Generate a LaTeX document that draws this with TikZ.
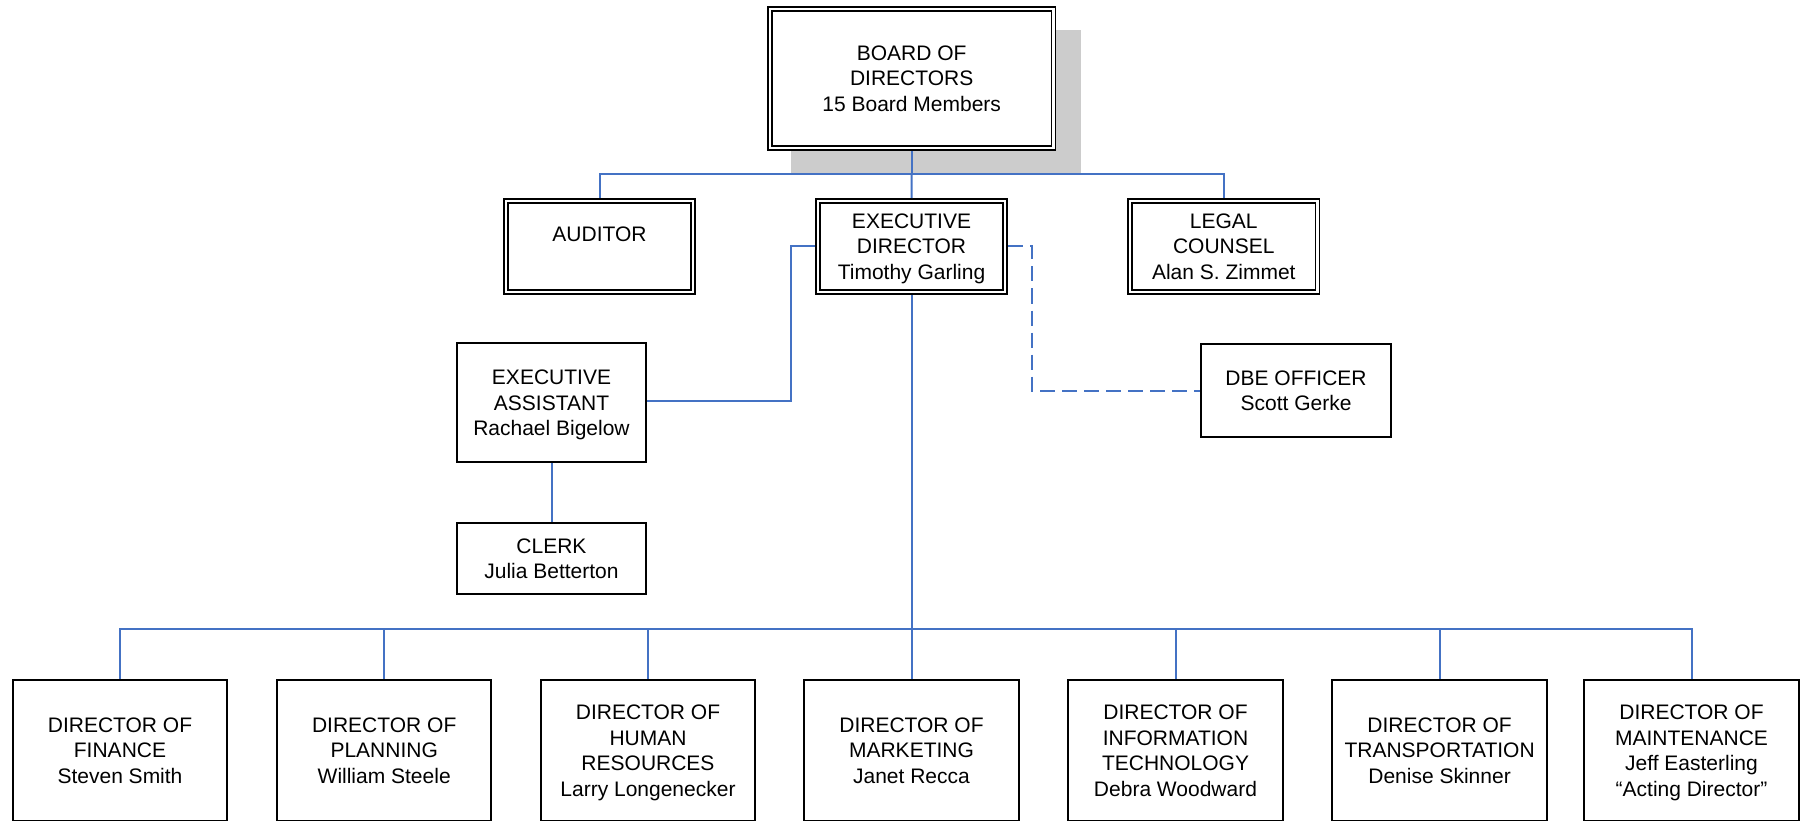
\documentclass[tikz,border=0pt]{standalone}
\usepackage{fontspec}
\setmainfont{Liberation Sans}
\definecolor{linkblue}{HTML}{4472C4}
\definecolor{shadowgray}{HTML}{CCCCCC}

\begin{document}
\begin{tikzpicture}[x=1pt,y=-1pt,
  every node/.style={font=\fontsize{21}{25.5}\selectfont, align=center, inner sep=0pt,
    text depth=0pt},
  dblbox/.style={draw=black, fill=white, line width=1.6pt, double=white,
    double distance=2.4pt, outer sep=2.8pt},
  topbox/.style={dblbox, minimum width=187.4pt, minimum height=91.4pt},
  sbox/.style={draw=black, fill=white, line width=2pt, outer sep=1pt},
  staffbox/.style={sbox, minimum width=189pt},
  deptbox/.style={sbox, minimum width=214.5pt, minimum height=141pt},
  link/.style={draw=linkblue, line width=2pt},
  dlink/.style={link, dash pattern=on 15pt off 7pt}]

\useasboundingbox (0,0) rectangle (1800,821);

% drop shadow behind the board
\fill[shadowgray] (791,30) rectangle (1081,174.5);

% governing level
\node[dblbox, minimum width=283.4pt, minimum height=139.4pt] (board) at (911.7,78.5)
  {BOARD OF\\DIRECTORS\\15 Board Members};
\node[topbox] (auditor) at (599.5,246.5) {AUDITOR\\\mbox{}};
\node[topbox] (ed) at (911.5,246.5) {EXECUTIVE\\DIRECTOR\\Timothy Garling};
\node[topbox] (legal) at (1223.8,246.5) {LEGAL\\COUNSEL\\Alan S. Zimmet};

% staff
\node[staffbox, minimum height=119pt] (ea) at (551.5,402.8)
  {EXECUTIVE\\ASSISTANT\\Rachael Bigelow};
\node[staffbox, minimum height=71pt] (clerk) at (551.5,558.8) {CLERK\\Julia Betterton};
\node[sbox, minimum width=190pt, minimum height=93pt] (dbe) at (1296,390.5)
  {DBE OFFICER\\Scott Gerke};

% departments
\node[deptbox] (d1) at (120,750.5) {DIRECTOR OF\\FINANCE\\Steven Smith};
\node[deptbox] (d2) at (384.2,750.5) {DIRECTOR OF\\PLANNING\\William Steele};
\node[deptbox] (d3) at (648,750.5) {DIRECTOR OF\\HUMAN\\RESOURCES\\Larry Longenecker};
\node[deptbox] (d4) at (911.5,750.5) {DIRECTOR OF\\MARKETING\\Janet Recca};
\node[deptbox] (d5) at (1175.5,750.5) {DIRECTOR OF\\INFORMATION\\TECHNOLOGY\\Debra Woodward};
\node[deptbox] (d6) at (1439.6,750.5) {DIRECTOR OF\\TRANSPORTATION\\Denise Skinner};
\node[deptbox] (d7) at (1691.5,750.5) {DIRECTOR OF\\MAINTENANCE\\Jeff Easterling\\“Acting Director”};

% connector bends
\coordinate (topbus) at (911.7,174.5);
\coordinate (eaknee) at (791,400.5);
\coordinate (dbeknee) at (1032,390.5);
\coordinate (lowbus) at (911.5,629);

% board to its direct reports
\draw[link] (board.south) -- (topbus);
\draw[link] (auditor.north) |- (topbus) -| (legal.north);
\draw[link] (topbus) -- (ed.north);

% executive director to staff
\draw[link] (ed.west) -| (eaknee) -- (ea.east |- eaknee);
\draw[link] (ea.south) -- (clerk.north);
\draw[dlink] (ed.east) -| (dbeknee) -- (dbe.west);

% executive director to departments
\draw[link] (ed.south) -- (d4.north);
\draw[link] (d1.north) |- (lowbus) -| (d7.north);
\foreach \d in {d2,d3,d5,d6}
  \draw[link] (\d.north) -- (\d.north |- lowbus);
\end{tikzpicture}
\end{document}
